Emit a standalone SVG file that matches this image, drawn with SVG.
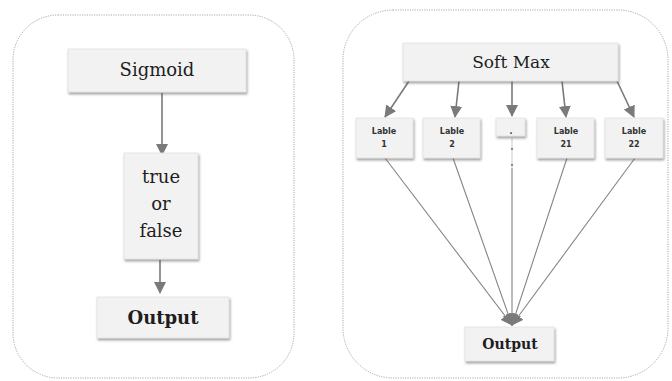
<svg xmlns="http://www.w3.org/2000/svg" width="672" height="381" viewBox="0 0 672 381">
<defs>
<filter id="sh" x="-20%" y="-20%" width="150%" height="160%">
<feDropShadow dx="1" dy="2" stdDeviation="1.2" flood-color="#555" flood-opacity="0.55"/>
</filter>
<marker id="ah" markerUnits="userSpaceOnUse" markerWidth="12" markerHeight="12" viewBox="0 0 12 12" refX="11" refY="6" orient="auto">
<path d="M0,0 L12,6 L0,12 Z" fill="#7a7a7a"/>
</marker>
<style>
.panel{fill:#fff;stroke:#a8a8a8;stroke-width:1;stroke-dasharray:1.2 1.2}
.box{fill:#f2f2f2;stroke:#e2e2e2;stroke-width:0.8;filter:url(#sh)}
.lnk{stroke:#7a7a7a;stroke-width:1.6;fill:none}
.thin{stroke:#858585;stroke-width:1.1;fill:none}
.t{font-family:"DejaVu Serif",serif;fill:#1e1e1e;text-anchor:middle}
.lb{font-family:"DejaVu Sans",sans-serif;font-weight:bold;font-size:8px;fill:#333;text-anchor:middle}
</style>
</defs>
<rect class="panel" x="13" y="15" width="281" height="363" rx="45"/>
<rect class="panel" x="343" y="10" width="325" height="368" rx="50"/>
<g id="connectors">
<line class="lnk" x1="162" y1="93" x2="162" y2="155" marker-end="url(#ah)"/>
<line class="lnk" x1="160" y1="260" x2="160" y2="293" marker-end="url(#ah)"/>
<line class="lnk" x1="409" y1="81" x2="385" y2="117" marker-end="url(#ah)"/>
<line class="lnk" x1="459" y1="81" x2="455" y2="117" marker-end="url(#ah)"/>
<line class="lnk" x1="512" y1="81" x2="512" y2="116" marker-end="url(#ah)"/>
<line class="lnk" x1="562" y1="81" x2="566" y2="117" marker-end="url(#ah)"/>
<line class="lnk" x1="617" y1="81" x2="634" y2="117" marker-end="url(#ah)"/>
<line class="thin" x1="385" y1="158" x2="512" y2="325" marker-end="url(#ah)"/>
<line class="thin" x1="453" y1="158" x2="512" y2="325" marker-end="url(#ah)"/>
<line class="thin" x1="512" y1="168" x2="512" y2="325" marker-end="url(#ah)"/>
<line x1="512" y1="138" x2="512" y2="168" stroke="#b0b0b0" stroke-width="0.7"/>
<line class="thin" x1="567" y1="158" x2="512" y2="325" marker-end="url(#ah)"/>
<line class="thin" x1="635" y1="158" x2="512" y2="325" marker-end="url(#ah)"/>
<circle cx="512" cy="149" r="1" fill="#666"/>
<circle cx="512" cy="165" r="1" fill="#666"/>
</g>
<g id="sigmoid">
<rect class="box" x="68" y="49" width="178" height="43"/>
<text class="t" x="157" y="76" font-size="18">Sigmoid</text>
</g>
<g id="truefalse">
<rect class="box" x="124" y="153" width="74" height="106"/>
<text class="t" x="161" y="183" font-size="18">true</text>
<text class="t" x="161" y="210" font-size="18">or</text>
<text class="t" x="161" y="237" font-size="18">false</text>
</g>
<g id="output-left">
<rect class="box" x="97" y="297" width="132" height="41"/>
<text class="t" x="163" y="324" font-size="18" font-weight="bold">Output</text>
</g>
<g id="softmax">
<rect class="box" x="403" y="43" width="215" height="38"/>
<text class="t" x="511" y="68" font-size="17">Soft Max</text>
</g>
<g id="lable1">
<rect class="box" x="356" y="118" width="57" height="40"/>
<text class="lb" x="384" y="134">Lable</text>
<text class="lb" x="384" y="147">1</text>
</g>
<g id="lable2">
<rect class="box" x="423" y="118" width="57" height="40"/>
<text class="lb" x="452" y="134">Lable</text>
<text class="lb" x="452" y="147">2</text>
</g>
<g id="dots">
<rect class="box" x="496" y="118" width="29" height="18"/>
<text class="lb" x="511" y="134">.</text>
</g>
<g id="lable21">
<rect class="box" x="537" y="118" width="57" height="40"/>
<text class="lb" x="566" y="134">Lable</text>
<text class="lb" x="566" y="147">21</text>
</g>
<g id="lable22">
<rect class="box" x="605" y="118" width="58" height="40"/>
<text class="lb" x="634" y="134">Lable</text>
<text class="lb" x="634" y="147">22</text>
</g>
<g id="output-right">
<rect class="box" x="465" y="327" width="89" height="34"/>
<text class="t" x="510" y="349" font-size="14" font-weight="bold">Output</text>
</g>
</svg>
